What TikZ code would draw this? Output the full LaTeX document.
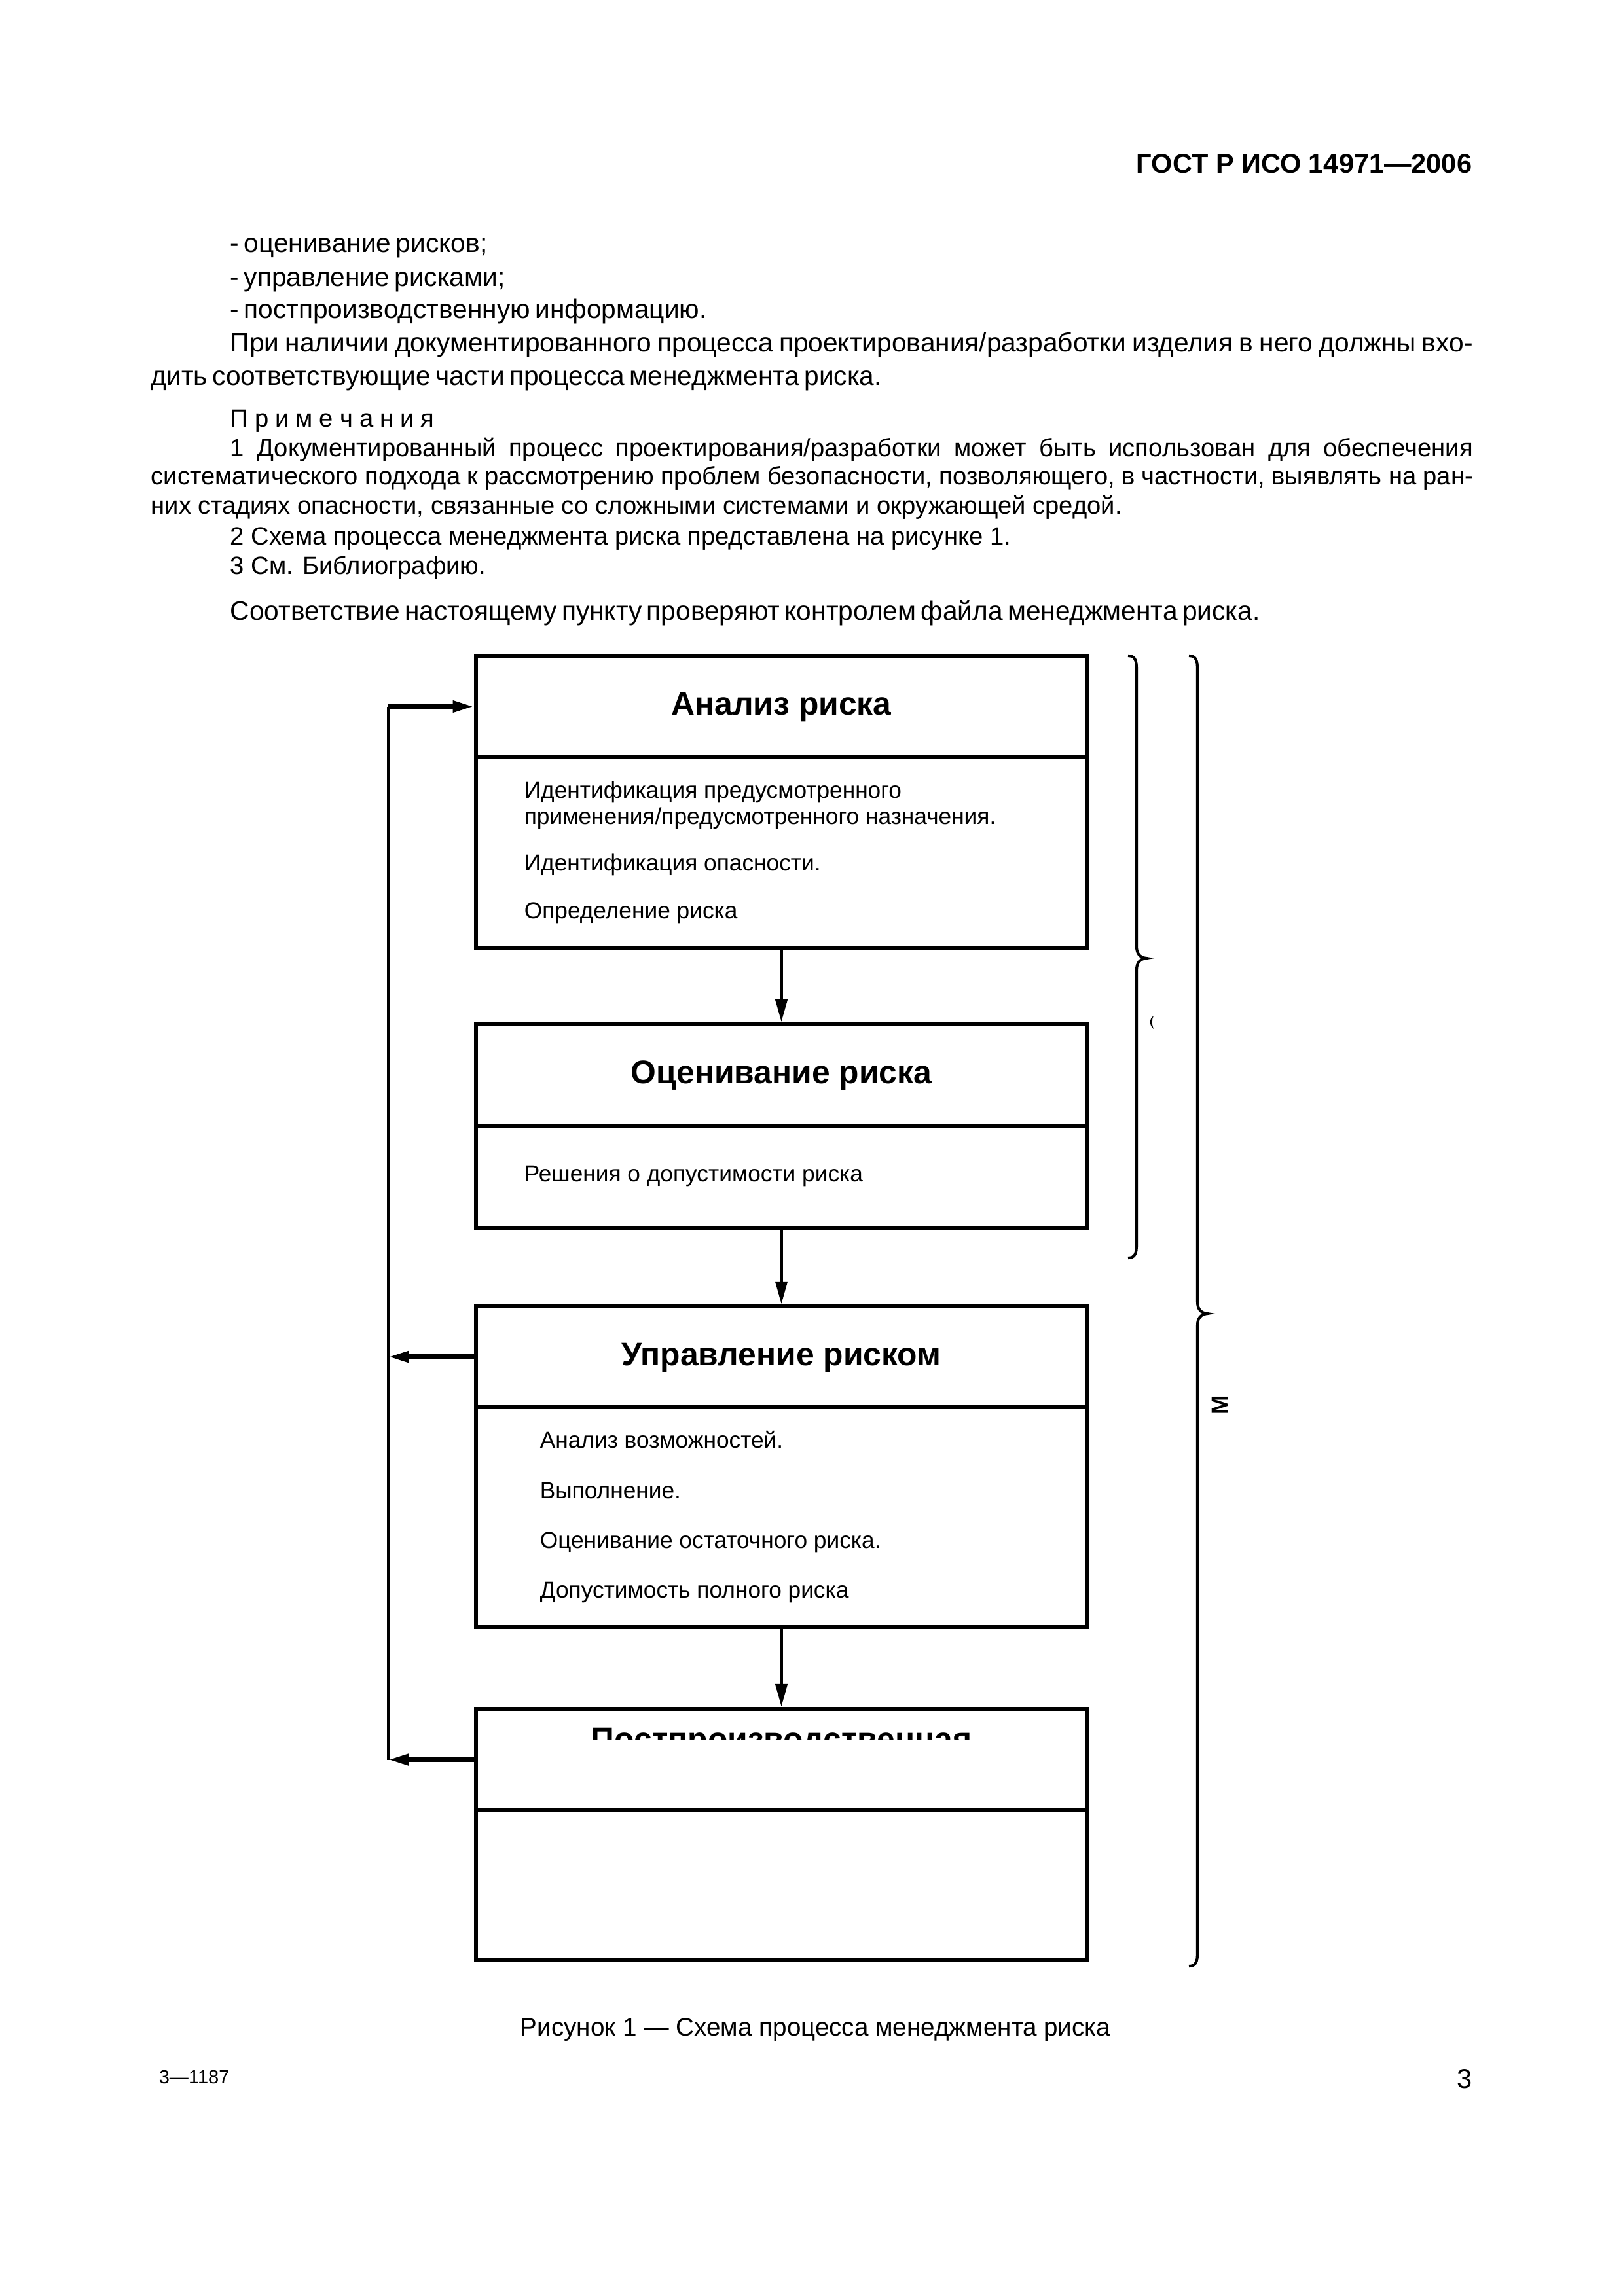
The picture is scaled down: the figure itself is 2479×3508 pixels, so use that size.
\documentclass[tikz,border=0pt]{standalone}
\usepackage{fontspec}
\setmainfont{Liberation Sans}
\usetikzlibrary{arrows.meta,fit}
\newcommand\jline[2]{\hbox to #1{\spaceskip=0.278em plus 1em minus 0.2em\relax #2}}
\newcommand\tightsp{\spaceskip=0.18em plus 0.05em\relax}
\newcommand\lsp{\kern2.4pt}
\begin{document}
\begin{tikzpicture}[x=0.24091pt, y=-0.24091pt,
  part/.style={draw, line width=1.6pt, inner sep=0pt},
  maintxt/.style={inner sep=0pt, anchor=base west, font=\fontsize{9.8}{12}\selectfont},
  captxt/.style={inner sep=0pt, anchor=base west, font=\fontsize{9.3}{11}\selectfont},
  notetxt/.style={inner sep=0pt, anchor=base west, font=\fontsize{9.2}{11}\selectfont},
  titletxt/.style={inner sep=0pt, anchor=base, font=\fontsize{12}{14}\selectfont\bfseries},
  itemtxt/.style={inner sep=0pt, anchor=base west, font=\fontsize{8.5}{10}\selectfont},
  flow/.style={line width=1.2pt, -{Triangle[length=8.4pt,width=4.3pt]}},
  back/.style={line width=1.7pt, -{Triangle[length=7.7pt,width=4pt]}},
  loopline/.style={line width=1pt},
  bracest/.style={line width=1pt}]
\useasboundingbox (0,0) rectangle (2479,3508);

% page texts
\node[inner sep=0pt, anchor=base east, font=\fontsize{10}{12}\selectfont\bfseries] (hdr) at (2249,264) {ГОСТ Р ИСО 14971—2006};
\node[maintxt] (l1) at (351,385) {\tightsp - оценивание рисков;};
\node[maintxt] (l2) at (351,437) {\tightsp - управление рисками;};
\node[maintxt] (l3) at (351,486) {\tightsp - постпроизводственную информацию.};
\node[maintxt] (l4) at (351,537) {\jline{457.2pt}{При наличии документированного процесса проектирования/разработки изделия в него должны вхо-}};
\node[maintxt] (l5) at (230,588) {\tightsp дить соответствующие части процесса менеджмента риска.};
\node[notetxt] (n0) at (351,652) {П\lsp р\lsp и\lsp м\lsp е\lsp ч\lsp а\lsp н\lsp и\lsp я};
\node[notetxt] (n1) at (351,697) {\jline{457.2pt}{1 Документированный процесс проектирования/разработки может быть использован для обеспечения}};
\node[notetxt] (n2) at (230,740) {\jline{486.4pt}{систематического подхода к рассмотрению проблем безопасности, позволяющего, в частности, выявлять на ран-}};
\node[notetxt] (n3) at (230,785) {них стадиях опасности, связанные со сложными системами и окружающей средой.};
\node[notetxt] (n4) at (351,832) {2 Схема процесса менеджмента риска представлена на рисунке 1.};
\node[notetxt] (n5) at (351,877) {3 См. Библиографию.};
\node[maintxt] (l6) at (351,947) {\tightsp Соответствие настоящему пункту проверяют контролем файла менеджмента риска.};

% box 4 clipped title
\begin{scope}
\clip (727,2611) rectangle (1660,2657);
\node[titletxt] (t4) at (1193.5,2674) {Постпроизводственная};
\end{scope}

% boxes
\node[part, fit={(727,1002) (1660,1157)}] (b1h) {};
\node[part, fit={(727,1157) (1660,1448)}] (b1b) {};
\node[part, fit={(727,1565) (1660,1720)}] (b2h) {};
\node[part, fit={(727,1720) (1660,1876)}] (b2b) {};
\node[part, fit={(727,1996) (1660,2150)}] (b3h) {};
\node[part, fit={(727,2150) (1660,2486)}] (b3b) {};
\node[part, fit={(727,2611) (1660,2766)}] (b4h) {};
\node[part, fit={(727,2766) (1660,2995)}] (b4b) {};

% titles
\node[titletxt] (t1) at (1193.5,1092) {Анализ риска};
\node[titletxt] (t2) at (1193.5,1655) {Оценивание риска};
\node[titletxt] (t3) at (1193.5,2086) {Управление риском};

% items
\node[itemtxt] (i11) at (800,1219) {Идентификация предусмотренного};
\node[itemtxt] (i12) at (800,1259) {применения/предусмотренного назначения.};
\node[itemtxt] (i13) at (800,1330) {Идентификация опасности.};
\node[itemtxt] (i14) at (800,1403) {Определение риска};
\node[itemtxt] (i21) at (800,1805) {Решения о допустимости риска};
\node[itemtxt] (i31) at (824,2212) {Анализ возможностей.};
\node[itemtxt] (i32) at (824,2289) {Выполнение.};
\node[itemtxt] (i33) at (824,2365) {Оценивание остаточного риска.};
\node[itemtxt] (i34) at (824,2441) {Допустимость полного риска};

% flow arrows
\draw[flow] (b1b.south) -- (b2h.north);
\draw[flow] (b2b.south) -- (b3h.north);
\draw[flow] (b3b.south) -- (b4h.north);

% feedback loop
\coordinate (lx) at (593,0);
\coordinate (lt) at (lx |- b1h.west);
\coordinate (lm) at (lx |- b3h.west);
\coordinate (lb) at (lx |- b4h.west);
\draw[loopline] (lb) -- (lt);
\draw[back] (lt) -- (b1h.west);
\draw[back] (b3h.west) -- (lm);
\draw[back] (b4h.west) -- (lb);

% braces
\draw[bracest] (1723,1002) .. controls (1733,1002) and (1736,1008) .. (1736,1022) -- (1736,1446)
  .. controls (1736,1457) and (1741,1463) .. (1751,1464)
  .. controls (1741,1465) and (1736,1471) .. (1736,1482) -- (1736,1902)
  .. controls (1736,1916) and (1733,1922) .. (1723,1922);
\draw[bracest] (1816,1002) .. controls (1826,1002) and (1829,1008) .. (1829,1022) -- (1829,1989)
  .. controls (1829,2000) and (1834,2006) .. (1844,2007)
  .. controls (1834,2008) and (1829,2014) .. (1829,2025) -- (1829,2984)
  .. controls (1829,2998) and (1826,3004) .. (1816,3004);
\fill (1762,1552) .. controls (1755,1557) and (1755,1566) .. (1762,1572)
  .. controls (1759,1566) and (1759,1557) .. (1762,1552) -- cycle;
\node[rotate=90, inner sep=0pt, font=\fontsize{8.5}{10}\selectfont\bfseries] (mlab) at (1863,2147) {М};

% caption and footer
\node[captxt] (cap) at (794,3110) {Рисунок 1 — Схема процесса менеджмента риска};
\node[inner sep=0pt, anchor=base west, font=\fontsize{7}{8}\selectfont] (ftr) at (242,3183) {3—1187};
\node[inner sep=0pt, anchor=base east, font=\fontsize{10}{12}\selectfont] (pg) at (2249,3190) {3};
\end{tikzpicture}
\end{document}
